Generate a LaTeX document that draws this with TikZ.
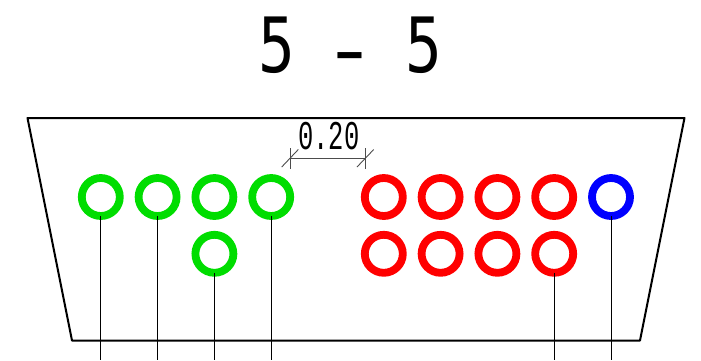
\documentclass[tikz,border=0pt]{standalone}
\usepackage{xcolor}
\usepackage{fontspec}
\setmonofont{DejaVu Sans Mono}
\newfontfamily\dimfont{Liberation Mono}
\definecolor{pingreen}{RGB}{0,221,0}

\begin{document}
\begin{tikzpicture}[x=1pt, y=-1pt, node distance=56.8pt,
    ring/.style={draw, circle, line width=7.8pt, minimum size=38pt, inner sep=0pt, outer sep=0pt},
    lead/.style={line width=1pt},
    dimline/.style={line width=0.9pt, black!70}]
      \useasboundingbox (0,0) rectangle (701,360);
      \coordinate (bottom) at (0,360);

      % Titulo y cuerpo
      \node[inner sep=0pt, yscale=1.25, transform shape, font=\ttfamily\fontsize{61}{61}\selectfont] (title) at (350,46.5) {5 \makebox[0.602em]{\raisebox{-3.5pt}{\scalebox{1.55}[1]{-}}} 5};
      \draw[line width=2pt, line join=round] (27.5,118) -- (684.5,118) -- (640,340.5) -- (72,340.5) -- cycle;

      % Pines verdes
      \node[ring, pingreen] (g1) at (100.8,197) {};
      \node[ring, pingreen, right of=g1] (g2) {};
      \node[ring, pingreen, right of=g2] (g3) {};
      \node[ring, pingreen, right of=g3] (g4) {};
      \node[ring, pingreen, below of=g3] (g5) {};

      % Pines rojos y azul
      \node[ring, red] (r1) at (383.8,197) {};
      \node[ring, red, right of=r1] (r2) {};
      \node[ring, red, right of=r2] (r3) {};
      \node[ring, red, right of=r3] (r4) {};
      \node[ring, red, below of=r1] (r5) {};
      \node[ring, red, below of=r2] (r6) {};
      \node[ring, red, below of=r3] (r7) {};
      \node[ring, red, below of=r4] (r8) {};
      \node[ring, blue, right of=r4] (b1) {};

      % Cotas
      \coordinate (dl) at (290,158);
      \coordinate (dr) at (365.3,158);
      \node[inner sep=0pt, yscale=1.6, transform shape, font=\dimfont\fontsize{25.5}{25.5}\selectfont] (dim) at (329,136.5) {0.20};
      \draw[dimline] (dl) -- (dr);
      \draw[dimline] (290,148) -- (290,168.5);
      \draw[dimline] (365.3,148) -- (365.3,168.5);
      \draw[dimline] (281.7,167) -- (298.3,149.5);
      \draw[dimline] (357,167) -- (373.7,149.5);

      % Conductores
      \draw[lead] (g1.south) -- (g1 |- bottom);
      \draw[lead] (g2.south) -- (g2 |- bottom);
      \draw[lead] (g5.south) -- (g5 |- bottom);
      \draw[lead] (g4.south) -- (g4 |- bottom);
      \draw[lead] (r8.south) -- (r8 |- bottom);
      \draw[lead] (b1.south) -- (b1 |- bottom);
    \end{tikzpicture}
\end{document}
